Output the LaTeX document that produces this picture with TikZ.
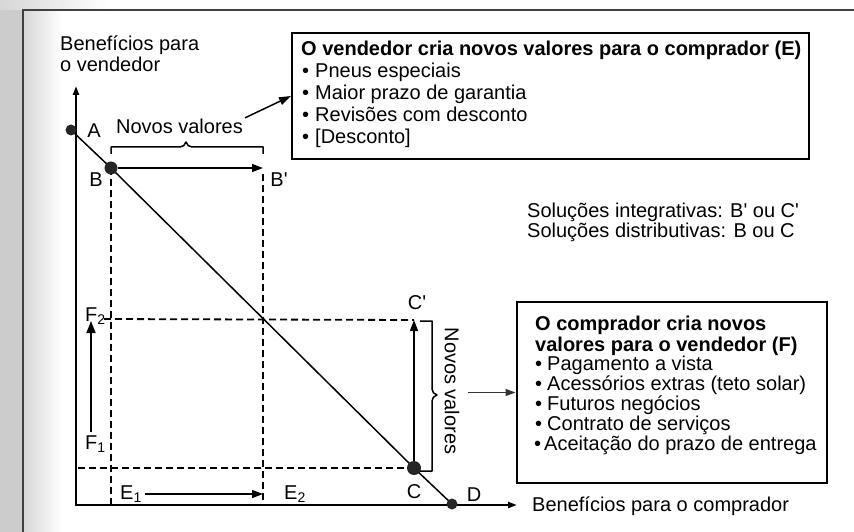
\documentclass[tikz,border=0pt]{standalone}
\usepackage{fontspec}
\setmainfont{Liberation Sans}
\usetikzlibrary{arrows.meta}
\newcommand{\sq}{\textquotesingle}
\begin{document}
\begin{tikzpicture}[x=1pt,y=-1pt,
  txt/.style={font=\fontsize{20}{21}\selectfont, inner sep=0pt},
  btxt/.style={font=\fontsize{20}{21}\selectfont\bfseries, inner sep=0pt},
  axisline/.style={line width=2.4pt},
  dsh/.style={line width=1.8pt, dash pattern=on 7pt off 4pt},
  thintip/.style={line width=1.2pt, -{Triangle[length=11pt,width=8pt]}},
  dot/.style={circle, fill=black!85, inner sep=0pt, minimum size=13pt},
  box/.style={draw, line width=2pt, inner sep=0pt},
  brace/.style={line width=1.5pt, line join=round},
]
\useasboundingbox (0,0) rectangle (854,532);
% background texture
\fill[black!20] (0,0) rectangle (23,532);
\shade[left color=black!16, right color=white] (23,10) rectangle (62,532);
\shade[left color=black!16, right color=white] (0,0) rectangle (110,10);
\draw[line width=2pt, black!75] (23,532) -- (23,10) -- (854,10);

% axes
\coordinate (O) at (76,505);
\coordinate (ytop) at (76,86);
\coordinate (xend) at (517,505);
\draw[axisline, {Triangle[length=9pt,width=6pt]}-{Triangle[length=9pt,width=6pt]}] (ytop) -- (O) -- (xend);
\node[txt, anchor=base west] (yl1) at (60,51) {Benefícios para};
\node[txt, anchor=base west] (yl2) at (60,72) {o vendedor};
\node[txt, anchor=base west] (xl) at (532,511) {Benefícios para o comprador};

% points
\coordinate (pA) at (71,130);
\coordinate (pB) at (111,168);
\coordinate (pC) at (414,468);
\coordinate (pD) at (452,504);
\coordinate (pBp) at (263,168);
\coordinate (pCp) at (414,320);

% dashed guides
\draw[dsh] (pB) -- (111,505);
\draw[dsh] (263,174) -- (263,505);
\draw[dsh] (104,319) -- (pCp);
\draw[dsh] (78,468) -- (pC);

% diagonal
\draw[line width=1.5pt] (pA) -- (pB) -- (pC) -- (pD);

% dots
\node[dot, minimum size=11pt] (A) at (pA) {};
\node[dot] (B) at (pB) {};
\node[dot, minimum size=14pt] (C) at (pC) {};
\node[dot, minimum size=11pt] (D) at (pD) {};

% arrows
\draw[line width=1.5pt, -{Triangle[length=11pt,width=8pt]}] (B) -- (pBp);
\draw[line width=1.5pt, -{Triangle[length=11pt,width=8pt]}] (C) -- (pCp);

% labels
\node[txt] (lA) at (94,131) {A};
\node[txt] (lB) at (96,180) {B};
\node[txt] (lBp) at (279,180) {B\sq};
\node[txt] (lC) at (414,492) {C};
\node[txt] (lCp) at (417,303) {C\sq};
\node[txt] (lD) at (474,495) {D};
\node[txt, anchor=base west] (F2) at (85,321) {F\textsubscript{2}};
\node[txt, anchor=base west] (F1) at (85,449) {F\textsubscript{1}};
\node[txt, anchor=base west] (E1) at (120,499) {E\textsubscript{1}};
\node[txt, anchor=base west] (E2) at (284,499) {E\textsubscript{2}};
\draw[line width=1.5pt, -{Triangle[length=12pt,width=9pt]}] (91,432) -- (91,321);
\draw[thintip] (145,494) -- (263,494);

% top brace and label
\draw[brace] (111,154) -- (111,147) -- (180,147) .. controls (183,147) and (185,145) .. (186,142)
  .. controls (187,145) and (189,147) .. (192,147) -- (263,147) -- (263,154);
\node[txt, anchor=base] (nv1) at (179.5,134) {Novos valores};

% right brace and label
\draw[brace] (420,321) -- (432,321) -- (432,389) .. controls (432,392) and (434,394) .. (437,395)
  .. controls (434,396) and (432,398) .. (432,401) -- (432,471) -- (420,471);
\node[txt, rotate=-90] (nv2) at (452,391) {Novos valores};

% box E
\node[box, minimum width=517pt, minimum height=126pt] (ebox) at (550.5,96) {};
\node[btxt, anchor=base west] (e0) at (301,56) {O vendedor cria novos valores para o comprador (E)};
\node[txt, anchor=base west] (e1) at (302,78) {•\hspace{6pt}Pneus especiais};
\node[txt, anchor=base west] (e2) at (302,100) {•\hspace{6pt}Maior prazo de garantia};
\node[txt, anchor=base west] (e3) at (302,122) {•\hspace{6pt}Revisões com desconto};
\node[txt, anchor=base west] (e4) at (302,143) {•\hspace{6pt}[Desconto]};
\draw[line width=1.5pt, -{Triangle[length=12pt,width=8pt]}] (nv1.east) ++(2,-9) -- (ebox.west);

% solutions text
\node[txt, anchor=base west] (s1) at (527,217) {Soluções integrativas: B\sq{} ou C\sq};
\node[txt, anchor=base west] (s2) at (527,237) {Soluções distributivas: B ou C};

% box F
\node[box, minimum width=310pt, minimum height=181pt] (fbox) at (671.5,392.5) {};
\node[btxt, anchor=base west] (f0) at (535,330) {O comprador cria novos};
\node[btxt, anchor=base west] (f1) at (535,351) {valores para o vendedor (F)};
\node[txt, anchor=base west] (f2) at (535,370) {•\hspace{5pt}Pagamento a vista};
\node[txt, anchor=base west] (f3) at (535,390) {•\hspace{5pt}Acessórios extras (teto solar)};
\node[txt, anchor=base west] (f4) at (535,410) {•\hspace{5pt}Futuros negócios};
\node[txt, anchor=base west] (f5) at (535,430) {•\hspace{5pt}Contrato de serviços};
\node[txt, anchor=base west] (f6) at (534,450) {•\hspace{3pt}Aceitação do prazo de entrega};
\coordinate (fstart) at (468,392.5);
\draw[line width=1.1pt, black!80, -{Triangle[length=10pt,width=7pt]}] (fstart) -- (fbox.west);
\end{tikzpicture}
\end{document}
